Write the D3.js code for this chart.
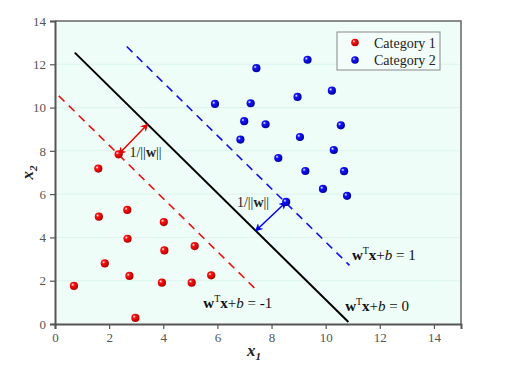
<!DOCTYPE html>
<html>
<head>
<meta charset="utf-8">
<script src="https://cdn.jsdelivr.net/npm/d3@7"></script>
<style>
  body { margin: 0; background: #fff; }
  svg text { font-family: "Liberation Serif", "DejaVu Serif", serif !important; }
</style>
</head>
<body>
<svg id="chart"></svg>
<script>
// Set dimensions
const width = 506, height = 376;
const margin = { top: 21, right: 45, bottom: 52, left: 55 };

// Data
const cat1X = [0.70, 1.62, 2.67, 2.68, 1.84, 2.75, 4.02, 4.04, 5.16, 3.95, 5.05, 5.77, 2.97, 1.60, 2.35];
const cat1Y = [1.76, 4.96, 5.27, 3.94, 2.80, 2.22, 4.71, 3.40, 3.60, 1.91, 1.91, 2.25, 0.28, 7.18, 7.84];
const cat2X = [5.91, 7.23, 7.44, 6.99, 6.85, 9.33, 10.23, 8.96, 7.78, 10.56, 9.05, 10.30, 8.25, 9.25, 10.68, 9.90, 10.79, 8.54];
const cat2Y = [10.17, 10.20, 11.82, 9.37, 8.52, 12.21, 10.78, 10.49, 9.23, 9.18, 8.64, 8.04, 7.67, 7.07, 7.06, 6.24, 5.92, 5.64];

// Hyperplane and margins (end points)
const hyperplane = [[0.73, 12.54], [10.84, 0.09]];
const marginNeg = [[0.14, 10.54], [7.52, 1.48]];
const marginPos = [[2.65, 12.82], [10.88, 2.71]];

// Margin arrows: support vector -> hyperplane
const arrowRed = [[2.35, 7.84], [3.43, 9.24]];
const arrowBlue = [[8.54, 5.64], [7.41, 4.30]];

const xTicks = [0, 2, 4, 6, 8, 10, 12, 14];
const yTicks = [0, 2, 4, 6, 8, 10, 12, 14];
const legendLabels = ["Category 1", "Category 2"];

const svg = d3.select("#chart")
    .attr("width", width)
    .attr("height", height);

const x = d3.scaleLinear().domain([0, 15]).range([margin.left, width - margin.right]);
const y = d3.scaleLinear().domain([0, 14]).range([height - margin.bottom, margin.top]);

// Gradients for the shaded balls
const defs = svg.append("defs");
function ballGradient(id, base, dark) {
    const g = defs.append("radialGradient")
        .attr("id", id)
        .attr("cx", "35%").attr("cy", "35%").attr("r", "65%");
    g.append("stop").attr("offset", "0%").attr("stop-color", "#ffffff");
    g.append("stop").attr("offset", "30%").attr("stop-color", base);
    g.append("stop").attr("offset", "100%").attr("stop-color", dark);
}
ballGradient("ballRed", "#ff1010", "#b00000");
ballGradient("ballBlue", "#1414ff", "#0000a0");

function arrowMarker(id, color) {
    defs.append("marker")
        .attr("id", id)
        .attr("viewBox", "0 0 10 10")
        .attr("refX", 9).attr("refY", 5)
        .attr("markerWidth", 8).attr("markerHeight", 8)
        .attr("markerUnits", "userSpaceOnUse")
        .attr("orient", "auto-start-reverse")
        .append("path")
        .attr("d", "M0,0 L10,5 L0,10 L3,5 Z")
        .attr("fill", color);
}
arrowMarker("arrRed", "#ee0000");
arrowMarker("arrBlue", "#0000ee");

// Plot background
const x0 = x(0), x1 = x(15), y0 = y(0), y1 = y(14);
svg.append("rect")
    .attr("x", x0).attr("y", y1)
    .attr("width", x1 - x0).attr("height", y0 - y1)
    .attr("fill", "#eefdf7");

// faint horizontal grid
svg.append("g").selectAll("line")
    .data(yTicks.slice(1, -1))
    .join("line")
    .attr("x1", x0).attr("x2", x1)
    .attr("y1", d => y(d)).attr("y2", d => y(d))
    .attr("stroke", "#dcf5ec")
    .attr("stroke-width", 1);

// Lines
const line = d3.line().x(d => x(d[0])).y(d => y(d[1]));

svg.append("path").datum(marginNeg)
    .attr("d", line).attr("fill", "none")
    .attr("stroke", "#ee1111").attr("stroke-width", 1.6)
    .attr("stroke-dasharray", "8 6");

svg.append("path").datum(marginPos)
    .attr("d", line).attr("fill", "none")
    .attr("stroke", "#1111ee").attr("stroke-width", 1.6)
    .attr("stroke-dasharray", "8 6");

svg.append("path").datum(hyperplane)
    .attr("d", line).attr("fill", "none")
    .attr("stroke", "#000").attr("stroke-width", 2);

// Arrows
svg.append("path").datum(arrowRed)
    .attr("d", line).attr("fill", "none")
    .attr("stroke", "#ee0000").attr("stroke-width", 1.5)
    .attr("marker-start", "url(#arrRed)")
    .attr("marker-end", "url(#arrRed)");

svg.append("path").datum(arrowBlue)
    .attr("d", line).attr("fill", "none")
    .attr("stroke", "#0000ee").attr("stroke-width", 1.5)
    .attr("marker-start", "url(#arrBlue)")
    .attr("marker-end", "url(#arrBlue)");

// Points
const pts1 = cat1X.map((d, i) => [d, cat1Y[i]]);
const pts2 = cat2X.map((d, i) => [d, cat2Y[i]]);

svg.append("g").selectAll("circle")
    .data(pts1).join("circle")
    .attr("cx", d => x(d[0])).attr("cy", d => y(d[1]))
    .attr("r", 4.1)
    .attr("fill", "url(#ballRed)");

svg.append("g").selectAll("circle")
    .data(pts2).join("circle")
    .attr("cx", d => x(d[0])).attr("cy", d => y(d[1]))
    .attr("r", 4.1)
    .attr("fill", "url(#ballBlue)");

// Annotations
function normLabel(px, py) {
    const t = svg.append("text")
        .attr("x", x(px)).attr("y", y(py))
        .attr("font-size", 14).attr("fill", "#222");
    t.append("tspan").text("1/||");
    t.append("tspan").attr("font-weight", "bold").text("w");
    t.append("tspan").text("||");
}
normLabel(2.75, 7.70);
normLabel(6.72, 5.42);

function eqLabel(px, py, rhs) {
    const t = svg.append("text")
        .attr("x", x(px)).attr("y", y(py))
        .attr("font-size", 15).attr("fill", "#111");
    t.append("tspan").attr("font-weight", "bold").text("w");
    t.append("tspan").attr("font-size", 10).attr("dy", -6).text("T");
    t.append("tspan").attr("font-weight", "bold").attr("dy", 6).text("x");
    t.append("tspan").text("+");
    t.append("tspan").attr("font-style", "italic").text("b");
    t.append("tspan").text(" = " + rhs);
}
eqLabel(10.97, 2.96, "1");
eqLabel(10.72, 0.60, "0");
eqLabel(5.48, 0.75, "-1");

// Frame (top/right)
svg.append("path")
    .attr("d", `M${x0},${y1}H${x1}V${y0}`)
    .attr("fill", "none")
    .attr("stroke", "#666").attr("stroke-width", 1.5);

// Axes
const xAxis = svg.append("g")
    .attr("transform", `translate(0,${y0})`)
    .call(d3.axisBottom(x).tickValues(xTicks).tickSize(5).tickPadding(4));
const yAxis = svg.append("g")
    .attr("transform", `translate(${x0},0)`)
    .call(d3.axisLeft(y).tickValues(yTicks).tickSize(5).tickPadding(4));

[xAxis, yAxis].forEach(a => {
    a.attr("font-family", null).attr("font-size", null);
    a.select(".domain").attr("stroke", "#555").attr("stroke-width", 2);
    a.selectAll(".tick line").attr("stroke", "#555").attr("stroke-width", 1.2);
    a.selectAll(".tick text")
        .attr("fill", "#555")
        .style("font-size", "13px");
});

// Axis titles
const xt = svg.append("text")
    .attr("x", (x0 + x1) / 2 - 4).attr("y", 356)
    .attr("text-anchor", "middle")
    .attr("font-size", 17).attr("font-weight", "bold").attr("font-style", "italic")
    .attr("fill", "#222");
xt.append("tspan").text("x");
xt.append("tspan").attr("font-size", 11).attr("dy", 4).text("1");

const yt = svg.append("text")
    .attr("transform", `translate(33,${(y0 + y1) / 2}) rotate(-90)`)
    .attr("text-anchor", "middle")
    .attr("font-size", 17).attr("font-weight", "bold").attr("font-style", "italic")
    .attr("fill", "#222");
yt.append("tspan").text("x");
yt.append("tspan").attr("font-size", 11).attr("dy", 4).text("2");

// Legend
const legend = svg.append("g").attr("transform", "translate(337,32)");
legend.append("rect")
    .attr("width", 103).attr("height", 38)
    .attr("fill", "#f3fdf9")
    .attr("stroke", "#888").attr("stroke-width", 1);
legend.selectAll("circle")
    .data(legendLabels).join("circle")
    .attr("cx", 18).attr("cy", (d, i) => 10.5 + i * 17.5)
    .attr("r", 3.8)
    .attr("fill", (d, i) => i === 0 ? "url(#ballRed)" : "url(#ballBlue)");
legend.selectAll("text")
    .data(legendLabels).join("text")
    .attr("x", 37).attr("y", (d, i) => 15.5 + i * 17.5)
    .attr("font-size", 14).attr("fill", "#222")
    .text(d => d);
</script>
</body>
</html>
